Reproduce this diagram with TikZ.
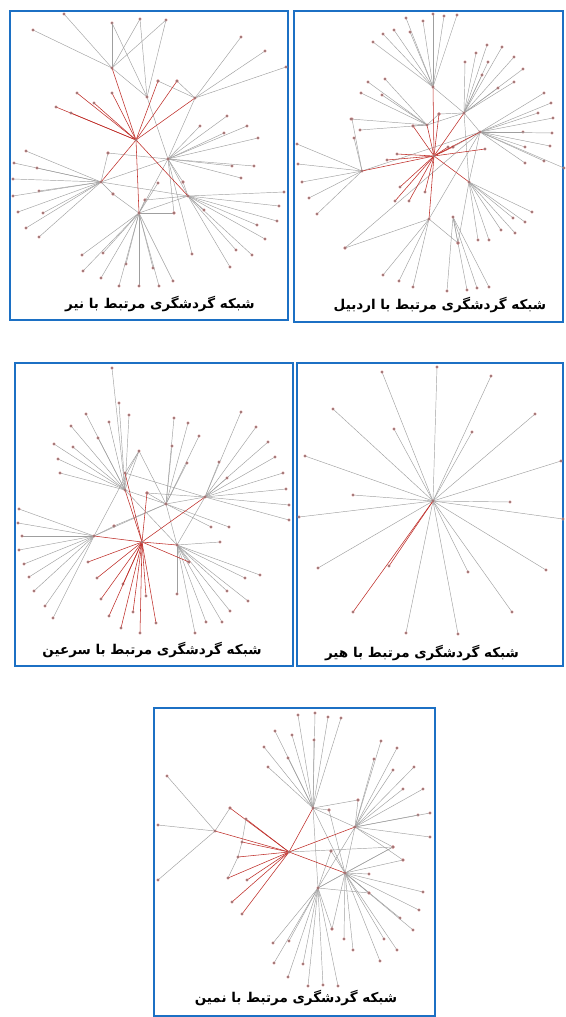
\documentclass[tikz,border=0pt]{standalone}
\usepackage{fontspec}
\newfontfamily\farsifont[Script=Arabic,BoldFont={DejaVu Sans Bold}]{DejaVu Sans}
\TeXXeTstate=1
\definecolor{panelblue}{RGB}{28,112,196}
\definecolor{linkred}{RGB}{190,45,40}

\begin{document}
\begin{tikzpicture}[x=1pt,y=-1pt,
    edge/.style={gray!75,line width=0.45pt},
    redge/.style={linkred,line width=0.55pt},
    dot/.style={circle,fill=black!75,draw=red!35,line width=0.35pt,inner sep=0pt,minimum size=2.6pt},
    panel/.style={panelblue,line width=2.2pt},
    caption/.style={font=\farsifont\bfseries\fontsize{13.5}{15}\selectfont}]
\useasboundingbox (0,0) rectangle (565,1017);
%
% frames
\draw[panel] (10,11) rectangle (288,320);
\draw[panel] (294,11) rectangle (563,322);
\draw[panel] (15,363) rectangle (293,666);
\draw[panel] (297,363) rectangle (563,666);
\draw[panel] (154,708) rectangle (435,1016);
%
% network 1 (nir)
\coordinate (p1a) at (112,68);
\coordinate (p1b) at (136,140);
\coordinate (p1c) at (195,98);
\coordinate (p1d) at (168,159);
\coordinate (p1e) at (101,182);
\coordinate (p1f) at (139,213);
\coordinate (p1g) at (188,196);
\coordinate (p1h) at (147,97);
\foreach \x/\y in {64/14,33/30,112/23,140/19,166/20}
    \draw[edge] (p1a) -- (\x,\y) node[dot] {};
\foreach \x/\y in {112/23,140/19,166/20}
    \draw[edge] (p1h) -- (\x,\y);
\foreach \x/\y in {241/37,265/51,286/67,158/81,177/81}
    \draw[edge] (p1c) -- (\x,\y) node[dot] {};
\foreach \x/\y in {227/116,200/126,247/126,224/133,258/138,232/166,254/166,241/178,108/153,192/254,174/213,183/182}
    \draw[edge] (p1d) -- (\x,\y) node[dot] {};
\foreach \x/\y in {26/151,14/163,37/168,13/179,39/191,13/196,18/212,43/213,26/228,39/237,113/194,108/153}
    \draw[edge] (p1e) -- (\x,\y) node[dot] {};
\foreach \x/\y in {82/255,103/253,83/271,126/264,101/278,119/286,139/286,153/268,159/286,173/281,158/183,145/200,113/194,174/213}
    \draw[edge] (p1f) -- (\x,\y) node[dot] {};
\foreach \x/\y in {284/192,279/206,277/221,257/225,265/239,252/255,236/250,230/267,204/210,183/182,145/200}
    \draw[edge] (p1g) -- (\x,\y) node[dot] {};
\draw[edge] (p1a) -- (p1h) -- (p1d) -- (p1c);
\draw[edge] (p1d) -- (p1e) -- (p1g) -- (p1d) -- (p1f) -- (p1g);
\foreach \x/\y in {77/93,94/103,56/107,71/113,112/93,158/81,177/81}
    \draw[redge] (p1b) -- (\x,\y) node[dot] {};
\foreach \n in {p1a,p1c,p1e,p1f,p1g}
    \draw[redge] (p1b) -- (\n);
\foreach \n in {p1a,p1b,p1c,p1d,p1e,p1f,p1g,p1h}
    \node[dot] at (\n) {};
\node[caption] (cap1) at (160,304) {\beginR شبکه گردشگری مرتبط با نیر\endR};
%
% network 2 (ardabil)
\coordinate (p2a) at (434,156);
\coordinate (p2b) at (433,87);
\coordinate (p2c) at (464,113);
\coordinate (p2d) at (480,132);
\coordinate (p2e) at (469,182);
\coordinate (p2f) at (362,171);
\coordinate (p2g) at (429,219);
\coordinate (p2h) at (453,217);
\coordinate (p2i) at (427,125);
\foreach \x/\y in {406/18,433/14,444/16,457/15,423/21,410/32,394/30,383/34,373/42}
    \draw[edge] (p2b) -- (\x,\y) node[dot] {};
\foreach \x/\y in {487/45,502/47,476/53,514/57,465/62,488/62,523/69,482/75,514/82,498/88,439/114}
    \draw[edge] (p2c) -- (\x,\y) node[dot] {};
\foreach \x/\y in {544/93,551/103,553/118,538/113,523/132,552/133,550/146,525/147,544/161,525/163,564/168,345/248,453/147}
    \draw[edge] (p2d) -- (\x,\y) node[dot] {};
\foreach \x/\y in {532/212,525/222,513/218,501/230,515/233,489/240,478/240,458/243}
    \draw[edge] (p2e) -- (\x,\y) node[dot] {};
\foreach \x/\y in {297/144,298/164,302/182,309/198,317/214,352/119,354/138}
    \draw[edge] (p2f) -- (\x,\y) node[dot] {};
\foreach \x/\y in {345/248,383/275,399/281,413/287,458/243}
    \draw[edge] (p2g) -- (\x,\y) node[dot] {};
\foreach \x/\y in {447/291,467/290,477/288,489/287,458/243}
    \draw[edge] (p2h) -- (\x,\y) node[dot] {};
\foreach \x/\y in {368/82,385/79,361/93,382/95,351/119,360/130,439/114,413/126}
    \draw[edge] (p2i) -- (\x,\y) node[dot] {};
\draw[edge] (p2b) -- (p2c) -- (p2e) -- (p2d) -- (p2c);
\draw[edge] (p2i) -- (p2c);
\draw[edge] (p2f) -- (p2d);
\draw[edge] (p2g) -- (p2d);
\foreach \x/\y in {387/160,397/154,400/187,395/201,409/201,425/192,453/147,485/149,448/147,413/126,439/114}
    \draw[redge] (p2a) -- (\x,\y) node[dot] {};
\foreach \n in {p2b,p2c,p2d,p2e,p2f,p2g,p2i}
    \draw[redge] (p2a) -- (\n);
\foreach \n in {p2a,p2b,p2c,p2d,p2e,p2f,p2g,p2h,p2i}
    \node[dot] at (\n) {};
\node[caption] (cap2) at (440,305) {\beginR شبکه گردشگری مرتبط با اردبیل\endR};
%
% network 3 (sarein)
\coordinate (p3a) at (142,542);
\coordinate (p3b) at (125,490);
\coordinate (p3c) at (166,504);
\coordinate (p3d) at (205,497);
\coordinate (p3e) at (94,536);
\coordinate (p3f) at (177,545);
\coordinate (p3g) at (139,451);
\coordinate (p3h) at (125,473);
\foreach \x/\y in {112/368,119/403,129/415,86/414,109/422,71/426,98/438,54/444,73/447,58/459,60/473}
    \draw[edge] (p3b) -- (\x,\y) node[dot] {};
\foreach \x/\y in {174/418,188/423,199/436,172/446,187/463,147/493,114/526,211/527,229/527}
    \draw[edge] (p3c) -- (\x,\y) node[dot] {};
\foreach \x/\y in {241/412,256/427,268/442,275/457,219/462,227/478,283/473,286/489,289/505,289/520,147/493}
    \draw[edge] (p3d) -- (\x,\y) node[dot] {};
\foreach \x/\y in {19/509,18/523,22/536,19/550,24/564,29/577,34/591,45/606,53/618,114/526}
    \draw[edge] (p3e) -- (\x,\y) node[dot] {};
\foreach \x/\y in {220/542,260/575,245/578,227/591,248/601,230/611,222/622,206/622,195/633,177/594,189/562}
    \draw[edge] (p3f) -- (\x,\y) node[dot] {};
\draw[edge] (p3b) -- (p3c) -- (p3d) -- (p3f) -- (p3b);
\draw[edge] (p3e) -- (p3c) -- (p3f);
\draw[edge] (p3e) -- (p3g) -- (p3c);
\draw[edge] (p3g) -- (p3b);
\draw[edge] (p3h) -- (p3d);
\draw[edge] (p3h) -- (p3g);
\foreach \x/\y in {88/562,97/578,123/584,101/599,109/616,121/628,133/612,140/633,146/596,156/623,189/562,147/493}
    \draw[redge] (p3a) -- (\x,\y) node[dot] {};
\foreach \n in {p3b,p3d,p3e,p3f,p3h}
    \draw[redge] (p3a) -- (\n);
\foreach \n in {p3a,p3b,p3c,p3d,p3e,p3f,p3g,p3h}
    \node[dot] at (\n) {};
\node[caption] (cap3) at (152,650) {\beginR شبکه گردشگری مرتبط با سرعین\endR};
%
% network 4 (hir)
\coordinate (p4a) at (433,501);
\foreach \x/\y in {437/367,382/372,491/376,333/409,535/414,394/429,472/432,305/456,561/461,353/495,510/502,299/517,563/519,318/568,468/572,546/570,512/612,406/633,458/634}
    \draw[edge] (p4a) -- (\x,\y) node[dot] {};
\foreach \x/\y in {389/566,353/612}
    \draw[redge] (p4a) -- (\x,\y) node[dot] {};
\node[dot] at (p4a) {};
\node[caption] (cap4) at (422,653) {\beginR شبکه گردشگری مرتبط با هیر\endR};
%
% network 5 (namin)
\coordinate (p5a) at (289,852);
\coordinate (p5b) at (313,808);
\coordinate (p5c) at (355,827);
\coordinate (p5d) at (345,873);
\coordinate (p5e) at (318,888);
\coordinate (p5f) at (215,831);
\foreach \x/\y in {298/715,315/713,328/717,341/718,275/731,292/735,314/740,264/747,288/758,268/767,358/800,329/810}
    \draw[edge] (p5b) -- (\x,\y) node[dot] {};
\foreach \x/\y in {381/741,397/748,374/759,414/767,393/770,403/789,423/789,418/815,430/813,430/837,358/800,393/847,403/860}
    \draw[edge] (p5c) -- (\x,\y) node[dot] {};
\foreach \x/\y in {423/892,419/910,400/918,413/930,397/950,384/939,380/961,353/950,344/939,369/874,403/860,393/847,369/893,332/929,329/810,331/851}
    \draw[edge] (p5d) -- (\x,\y) node[dot] {};
\foreach \x/\y in {273/943,289/941,274/963,303/964,288/977,308/986,323/985,338/986,332/929,393/847,331/851,369/893}
    \draw[edge] (p5e) -- (\x,\y) node[dot] {};
\foreach \x/\y in {167/776,158/825,158/880,230/808}
    \draw[edge] (p5f) -- (\x,\y) node[dot] {};
\draw[edge] (p5c) -- (p5b) -- (p5d) -- (p5c) -- (p5e) -- (p5d);
\draw[edge] (p5b) -- (p5e);
\draw[edge] (246,819) -- (242,842) -- (238,857) -- (228,878);
\draw[edge] (p5a) -- (393,847);
\foreach \x/\y in {230/808,246/819,242/842,238/857,228/878,247/880,232/902,242/914}
    \draw[redge] (p5a) -- (\x,\y) node[dot] {};
\foreach \n in {p5b,p5c,p5d,p5f}
    \draw[redge] (p5a) -- (\n);
\foreach \n in {p5a,p5b,p5c,p5d,p5e,p5f}
    \node[dot] at (\n) {};
\node[caption] (cap5) at (296,998) {\beginR شبکه گردشگری مرتبط با نمین\endR};
\end{tikzpicture}
\end{document}
